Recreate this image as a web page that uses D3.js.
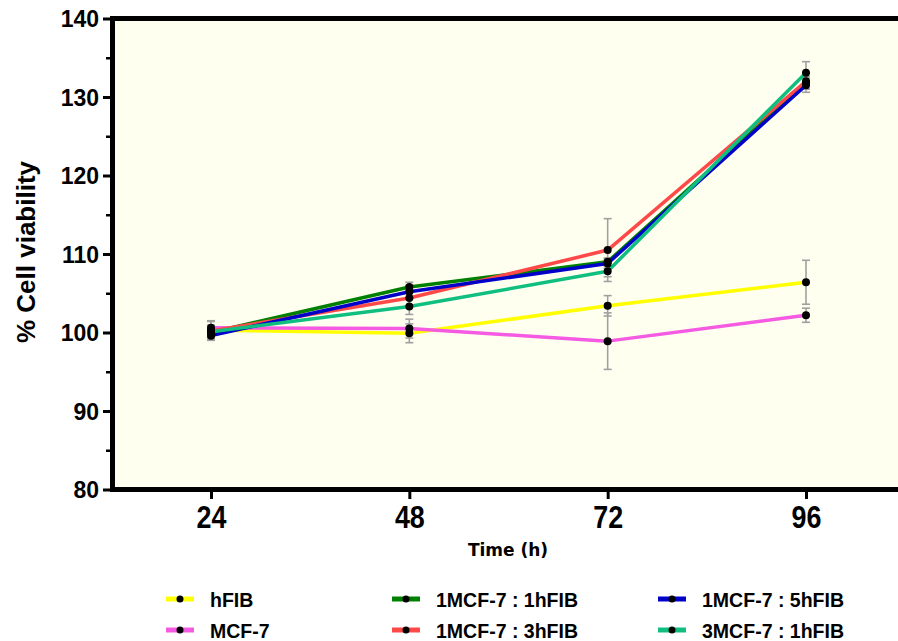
<!DOCTYPE html>
<html><head><meta charset="utf-8">
<script src="https://cdn.jsdelivr.net/npm/d3@7"></script>
<style>body{margin:0;background:#fff}svg{display:block}</style>
</head><body>
<svg id="c" width="898" height="641"></svg>
<script>
const times = [24, 48, 72, 96];
const seriesNames = ["hFIB", "MCF-7", "1MCF-7 : 1hFIB", "1MCF-7 : 3hFIB", "1MCF-7 : 5hFIB", "3MCF-7 : 1hFIB"];
const seriesColors = ["#ffff00", "#f55be2", "#008000", "#ff4848", "#0000c8", "#10bf80"];
const hFIB = [100.3, 99.9, 103.4, 106.4];
const hFIB_err = [1.2, 1.2, 1.3, 2.8];
const MCF7 = [100.6, 100.5, 98.9, 102.2];
const MCF7_err = [0.8, 1.2, 3.6, 0.9];
const m1f1 = [100.0, 105.8, 109.0, 131.8];
const m1f1_err = [0.6, 0.6, 0.5, 0.8];
const m1f3 = [100.2, 104.4, 110.5, 132.0];
const m1f3_err = [0.7, 1.0, 4.0, 1.0];
const m1f5 = [99.6, 105.2, 108.8, 131.5];
const m1f5_err = [0.6, 0.8, 0.6, 0.9];
const m3f1 = [100.1, 103.3, 107.8, 133.1];
const m3f1_err = [0.8, 1.0, 0.7, 1.4];
const yTicks = [80, 90, 100, 110, 120, 130, 140];
const yMinorTicks = [85, 95, 105, 115, 125, 135];
const xTicks = [24, 48, 72, 96];

const values = [hFIB, MCF7, m1f1, m1f3, m1f5, m3f1];
const errs = [hFIB_err, MCF7_err, m1f1_err, m1f3_err, m1f5_err, m3f1_err];

const svg = d3.select("#c");
const x = d3.scaleLinear().domain([24, 96]).range([211, 806]);
const y = d3.scaleLinear().domain([80, 140]).range([489.5, 18.5]);

// background
svg.append("rect").attr("x", 115).attr("y", y(140)).attr("width", 898 - 115).attr("height", y(80) - y(140)).attr("fill", "#fffff0");

// error bars
const series = seriesNames.map((n, i) => ({name: n, color: seriesColors[i], pts: times.map((t, j) => ({t, v: values[i][j], e: errs[i][j]}))}));
const eg = svg.append("g").attr("stroke", "#a0a0a0").attr("stroke-width", 1.6);
series.forEach(s => {
  s.pts.forEach(p => {
    eg.append("line").attr("x1", x(p.t)).attr("x2", x(p.t)).attr("y1", y(p.v - p.e)).attr("y2", y(p.v + p.e));
    [p.v - p.e, p.v + p.e].forEach(v => eg.append("line").attr("x1", x(p.t) - 4).attr("x2", x(p.t) + 4).attr("y1", y(v)).attr("y2", y(v)));
  });
});

// lines
const line = d3.line().x(d => x(d.t)).y(d => y(d.v));
series.forEach(s => {
  svg.append("path").attr("d", line(s.pts)).attr("fill", "none").attr("stroke", s.color).attr("stroke-width", 3.5).attr("stroke-linejoin", "round");
});
series.forEach(s => {
  s.pts.forEach(p => svg.append("circle").attr("cx", x(p.t)).attr("cy", y(p.v)).attr("r", 4).attr("fill", "#000"));
});

// axes
svg.append("line").attr("x1", 112.5).attr("x2", 898).attr("y1", y(140)).attr("y2", y(140)).attr("stroke", "#000").attr("stroke-width", 5);
svg.append("line").attr("x1", 112.5).attr("x2", 898).attr("y1", y(80)).attr("y2", y(80)).attr("stroke", "#000").attr("stroke-width", 5);
svg.append("line").attr("x1", 112.5).attr("x2", 112.5).attr("y1", y(140) - 2.5).attr("y2", y(80) + 2.5).attr("stroke", "#000").attr("stroke-width", 5);

const yAxis = d3.axisLeft(y).tickValues(yTicks).tickSize(7).tickPadding(4).tickFormat(d3.format("d"));
const gy = svg.append("g").attr("transform", "translate(110,0)").call(yAxis);
gy.select(".domain").remove();
gy.selectAll(".tick line").attr("stroke-width", 3);
gy.selectAll("text").attr("font-family", "Liberation Sans, Arial, sans-serif").attr("font-weight", "bold").attr("font-size", 23).attr("fill", "#000").attr("dy", "0.36em");
const gym = svg.append("g").attr("transform", "translate(110,0)").call(d3.axisLeft(y).tickValues(yMinorTicks).tickSize(4).tickFormat(""));
gym.select(".domain").remove();
gym.selectAll(".tick line").attr("stroke-width", 2.5);

const xAxis = d3.axisBottom(x).tickValues(xTicks).tickSize(7).tickPadding(6).tickFormat(d3.format("d"));
const gx = svg.append("g").attr("transform", "translate(0,492)").call(xAxis);
gx.select(".domain").remove();
gx.selectAll(".tick line").attr("stroke-width", 3);
gx.selectAll("text").attr("font-family", "Liberation Sans, Arial, sans-serif").attr("font-weight", "bold").attr("font-size", 32).attr("fill", "#000").attr("dy", "0.72em").attr("transform", "scale(0.84,1)");

// axis titles
svg.append("text").attr("transform", "translate(35,252) rotate(-90)").attr("text-anchor", "middle")
  .attr("font-family", "Liberation Sans, Arial, sans-serif").attr("font-weight", "bold").attr("font-size", 26).text("% Cell viability");
svg.append("text").attr("x", 508).attr("y", 556).attr("text-anchor", "middle")
  .attr("font-family", "DejaVu Sans, Verdana, sans-serif").attr("font-weight", "bold").attr("font-size", 17).text("Time (h)");

// legend
const legPos = [[166, 599], [166, 630], [392, 599], [392, 630], [658, 599], [658, 630]];
series.forEach((s, i) => {
  const [lx, ly] = legPos[i];
  const g = svg.append("g").attr("transform", `translate(${lx},${ly})`);
  g.append("line").attr("x1", 0).attr("x2", 28).attr("y1", 0).attr("y2", 0).attr("stroke", s.color).attr("stroke-width", 5);
  g.append("circle").attr("cx", 14).attr("cy", 0).attr("r", 3.5).attr("fill", "#000");
  g.append("text").attr("transform", "translate(44,0) scale(0.93,1)").attr("dy", "0.36em")
    .attr("font-family", "Liberation Sans, Arial, sans-serif").attr("font-weight", "bold").attr("font-size", 21).text(s.name);
});
</script>
</body></html>
